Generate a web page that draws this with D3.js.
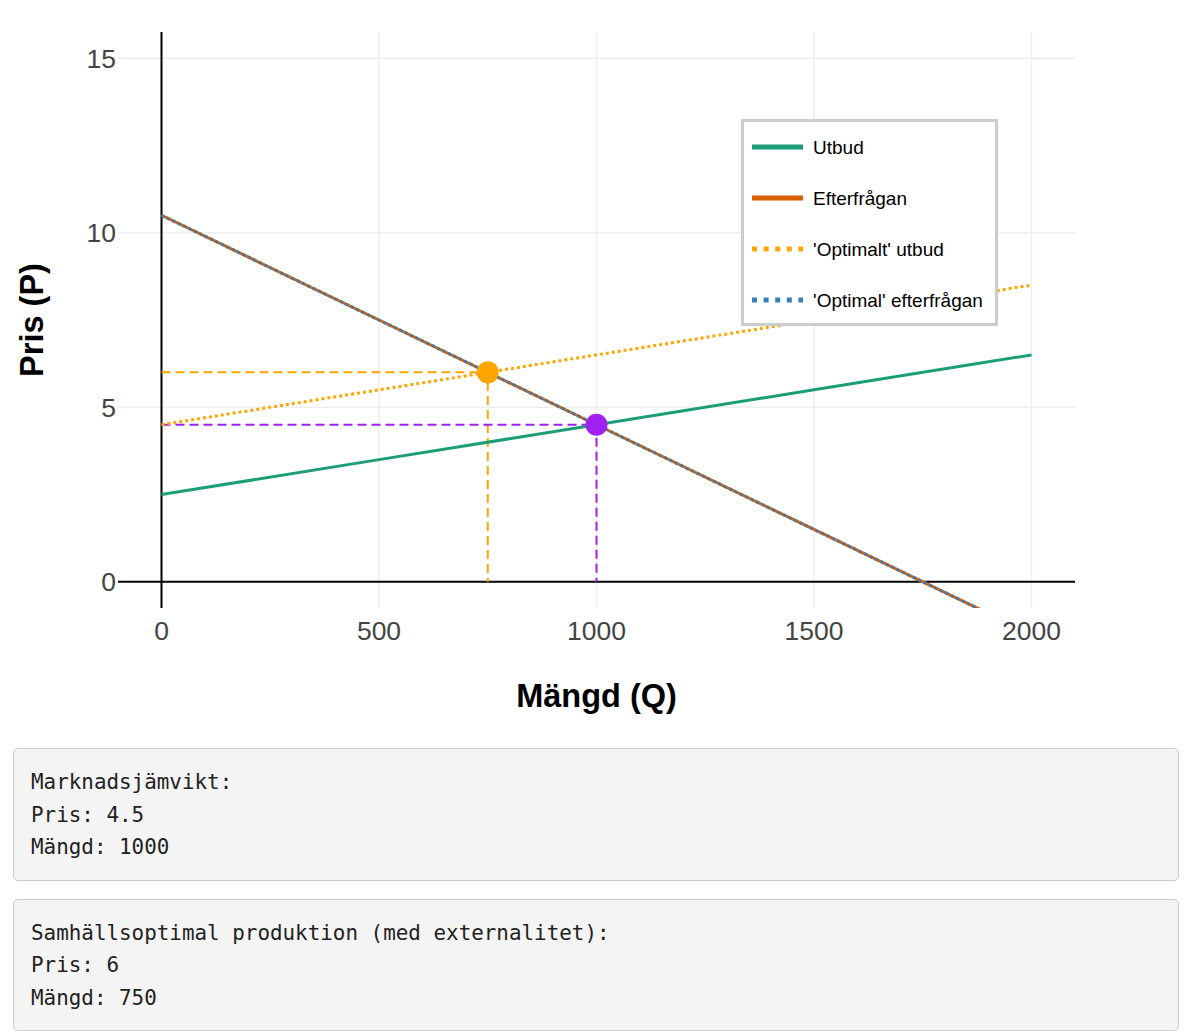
<!DOCTYPE html>
<html lang="sv">
<head>
<meta charset="UTF-8">
<title>Utbud och efterfrågan</title>
<script src="https://cdnjs.cloudflare.com/ajax/libs/d3/7.8.5/d3.min.js"></script>
<style>
  body {
    margin: 0;
    padding: 0 11px 0 13px;
    background: #fff;
    font-family: "Liberation Sans", Arial, sans-serif;
  }
  #chart { display: block; margin-left: -13px; }
  .grid line { stroke: #eee; stroke-width: 1.5; }
  .tick-label { font-size: 26.5px; fill: #444; }
  .axis-title { font-size: 32.5px; font-weight: bold; fill: #000; }
  .legend-text { font-size: 19px; fill: #000; }
  pre.result {
    margin: 0 0 18px 0;
    background: #f4f4f4;
    border: 1px solid #ccc;
    border-radius: 5px;
    padding: 17px 17px 16px 17px;
    font-family: "DejaVu Sans Mono", "Liberation Mono", monospace;
    font-size: 20.9px;
    line-height: 32.5px;
    color: #222;
  }
</style>
</head>
<body>
<svg id="chart" width="1190" height="748"></svg>
<pre class="result" id="res1"></pre>
<pre class="result" id="res2"></pre>

<script>
// --- Data ---
const quantities = [0, 500, 1000, 1500, 2000];
const supply = [2.5, 3.5, 4.5, 5.5, 6.5];           // P = 2.5 + 0.002Q
const demand = [10.5, 7.5, 4.5, 1.5, -1.5];         // P = 10.5 - 0.006Q
const optSupply = [4.5, 5.5, 6.5, 7.5, 8.5];        // supply + externality
const optDemand = [10.5, 7.5, 4.5, 1.5, -1.5];

const xTicks = [0, 500, 1000, 1500, 2000];
const yTicks = [0, 5, 10, 15];

const marketEq = { q: 1000, p: 4.5 };
const socialOpt = { q: 750, p: 6 };

const seriesNames = ["Utbud", "Efterfrågan", "'Optimalt' utbud", "'Optimal' efterfrågan"];

// --- Layout ---
const svg = d3.select("#chart");
const plot = { left: 118, right: 1075, top: 32, bottom: 608 };

const x = d3.scaleLinear().domain([-100, 2100]).range([plot.left, plot.right]);
const y = d3.scaleLinear().domain([-0.75, 15.75]).range([plot.bottom, plot.top]);

svg.append("defs").append("clipPath").attr("id", "plot-clip")
  .append("rect")
  .attr("x", plot.left).attr("y", plot.top)
  .attr("width", plot.right - plot.left).attr("height", plot.bottom - plot.top);

// gridlines
const grid = svg.append("g").attr("class", "grid");
grid.selectAll(".vg").data(xTicks.filter(d => d !== 0)).join("line")
  .attr("x1", d => x(d)).attr("x2", d => x(d))
  .attr("y1", plot.top).attr("y2", plot.bottom);
grid.selectAll(".hg").data(yTicks.filter(d => d !== 0)).join("line")
  .attr("x1", plot.left).attr("x2", plot.right)
  .attr("y1", d => y(d)).attr("y2", d => y(d));

// tick labels
svg.selectAll(".xt").data(xTicks).join("text")
  .attr("class", "tick-label")
  .attr("x", d => x(d)).attr("y", 640)
  .attr("text-anchor", "middle")
  .text(d => d);
svg.selectAll(".yt").data(yTicks).join("text")
  .attr("class", "tick-label")
  .attr("x", 116).attr("y", d => y(d) + 9.5)
  .attr("text-anchor", "end")
  .text(d => d);

// zero lines
svg.append("line")
  .attr("x1", plot.left).attr("x2", plot.right)
  .attr("y1", y(0)).attr("y2", y(0))
  .attr("stroke", "#000").attr("stroke-width", 2);
svg.append("line")
  .attr("x1", x(0)).attr("x2", x(0))
  .attr("y1", plot.top).attr("y2", plot.bottom)
  .attr("stroke", "#000").attr("stroke-width", 2);

// axis titles
svg.append("text").attr("class", "axis-title")
  .attr("x", (plot.left + plot.right) / 2).attr("y", 707)
  .attr("text-anchor", "middle").text("Mängd (Q)");
svg.append("text").attr("class", "axis-title")
  .attr("transform", `translate(43, ${(plot.top + plot.bottom) / 2}) rotate(-90)`)
  .attr("text-anchor", "middle").text("Pris (P)");

// --- Lines ---
const lines = svg.append("g").attr("clip-path", "url(#plot-clip)");
const line = d3.line().x(d => x(d[0])).y(d => y(d[1]));
const zip = vals => quantities.map((q, i) => [q, vals[i]]);

const series = [
  { vals: supply, color: "#1b9e77", dash: null },
  { vals: demand, color: "#d95f02", dash: null },
  { vals: optSupply, color: "#ffa500", dash: "3,3" },
  { vals: optDemand, color: "#377eb8", dash: "3,3" }
];

// reference dashed lines
const refs = [
  { pt: socialOpt, color: "#ffa500" },
  { pt: marketEq, color: "#a020f0" }
];
refs.forEach(r => {
  lines.append("path")
    .attr("d", line([[0, r.pt.p], [r.pt.q, r.pt.p], [r.pt.q, 0]]))
    .attr("fill", "none")
    .attr("stroke", r.color)
    .attr("stroke-width", 2)
    .attr("stroke-dasharray", "9,5");
});

series.forEach(s => {
  lines.append("path")
    .attr("d", line(zip(s.vals)))
    .attr("fill", "none")
    .attr("stroke", s.color)
    .attr("stroke-width", 3)
    .attr("stroke-dasharray", s.dash);
});

// markers
refs.forEach(r => {
  svg.append("circle")
    .attr("cx", x(r.pt.q)).attr("cy", y(r.pt.p))
    .attr("r", 11)
    .attr("fill", r.color);
});

// --- Legend ---
const lg = svg.append("g");
lg.append("rect")
  .attr("x", 742.5).attr("y", 120.5).attr("width", 254).attr("height", 204)
  .attr("fill", "#fff").attr("stroke", "#ccc").attr("stroke-width", 3);
series.forEach((s, i) => {
  const ly = 147 + i * 51;
  lg.append("line")
    .attr("x1", 752).attr("x2", 803).attr("y1", ly).attr("y2", ly)
    .attr("stroke", s.color).attr("stroke-width", 5)
    .attr("stroke-dasharray", s.dash ? "5,6.6" : null);
  lg.append("text").attr("class", "legend-text")
    .attr("x", 813).attr("y", ly + 6.5)
    .text(seriesNames[i]);
});

// --- Result boxes ---
d3.select("#res1").text(
  `Marknadsjämvikt:\nPris: ${marketEq.p}\nMängd: ${marketEq.q}`);
d3.select("#res2").text(
  `Samhällsoptimal produktion (med externalitet):\nPris: ${socialOpt.p}\nMängd: ${socialOpt.q}`);
</script>
</body>
</html>
